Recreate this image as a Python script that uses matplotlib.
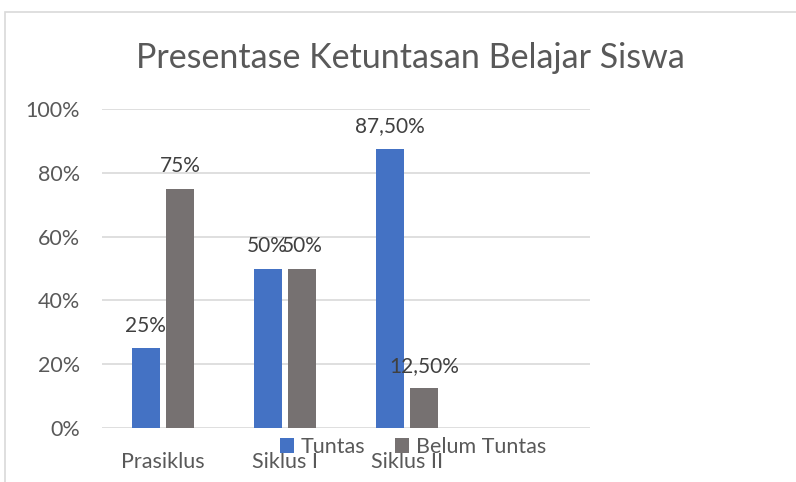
import matplotlib.pyplot as plt
from matplotlib.patches import Rectangle
import numpy as np

## Data
categories = ["Prasiklus", "Siklus I", "Siklus II"]
tuntas = [25, 50, 87.5]
belum_tuntas = [75, 50, 12.5]
series_names = ["Tuntas", "Belum Tuntas"]
yticks = [0, 20, 40, 60, 80, 100]

blue = "#4472C4"
gray = "#767171"
text_col = "#595959"
grid_col = "#D9D9D9"

plt.rcParams['font.family'] = ['Lato', 'DejaVu Sans']


def pct_label(v):
    # percent labels use a comma as decimal mark
    if float(v).is_integer():
        return "%d%%" % v
    return ("%.2f%%" % v).replace(".", ",")


fig = plt.figure(figsize=(7.96, 4.82), dpi=100)
ax = fig.add_axes([102/796, 1-428/482, 488/796, 319/482])

x = np.arange(len(categories))
w = 0.23
off = 0.143
b1 = ax.bar(x - off, tuntas, w, color=blue, label=series_names[0], zorder=3)
b2 = ax.bar(x + off, belum_tuntas, w, color=gray, label=series_names[1], zorder=3)

for bars in (b1, b2):
    for r in bars:
        h = r.get_height()
        ax.annotate(pct_label(h), (r.get_x() + r.get_width()/2, h),
                    xytext=(0, 9), textcoords="offset points",
                    ha="center", va="bottom", fontsize=15, color="#404040")

## empty 4th slot like the original sheet
ax.set_xlim(-0.5, 3.5)
ax.set_ylim(0, 100)
ax.set_xticks(x)
ax.set_xticklabels(categories)
ax.set_yticks(yticks)
ax.set_yticklabels([pct_label(t) for t in yticks])
ax.tick_params(axis="both", length=0, labelsize=15.5, labelcolor=text_col)
ax.tick_params(axis="x", pad=17)
ax.tick_params(axis="y", pad=16)
ax.grid(axis="y", color=grid_col, linewidth=1.2, zorder=0)
for s in ax.spines.values():
    s.set_visible(False)

fig.text(410/796, 1-58/482, "Presentase Ketuntasan Belajar Siswa",
         ha="center", va="center", fontsize=24.5, color=text_col)

fig.legend(loc="center", bbox_to_anchor=(413/796, 1-447/482), ncol=2,
           frameon=False, fontsize=15.5, labelcolor=text_col,
           handlelength=0.65, handleheight=0.65, handletextpad=0.3,
           columnspacing=1.4)

## chart border (cut off at right and bottom)
fig.patches.append(Rectangle((5/796, -0.1), 1.2, 1 - 12/482 + 0.1,
                             transform=fig.transFigure, fill=False,
                             edgecolor=grid_col, linewidth=1.2))

fig.savefig("out.png", dpi=100)
